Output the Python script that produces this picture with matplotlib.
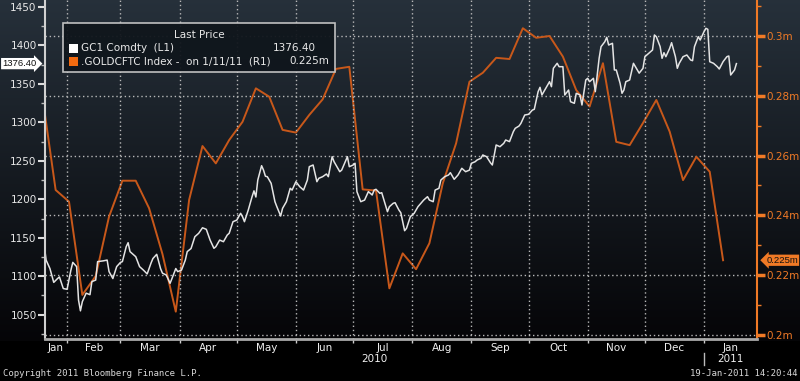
import numpy as np
import pandas as pd
import matplotlib
matplotlib.use("Agg")
import matplotlib.pyplot as plt
import matplotlib.transforms as mtransforms
from matplotlib.ticker import MultipleLocator, FuncFormatter, FixedLocator, FixedFormatter, NullFormatter
from matplotlib.patches import Rectangle
import matplotlib.dates as mdates

# GC1 Comdty, daily (days counted from gold_start)
gold_start = "2010-01-20"
gold_day = [0, 1, 3, 5, 7, 8, 10, 12, 14, 15, 17, 18, 19, 20, 22, 24, 25, 27, 28, 31,
            33, 34, 36, 38, 40, 41, 43, 44, 45, 48, 50, 52, 54, 56, 57, 59, 61, 62, 64, 66,
            67, 69, 70, 72, 74, 75, 77, 79, 81, 83, 85, 87, 89, 90, 92, 94, 96, 97, 99, 101,
            103, 104, 105, 107, 109, 110, 111, 112, 114, 115, 116, 117, 119, 121, 122, 124, 125, 127, 129, 130,
            132, 134, 136, 138, 139, 141, 143, 144, 146, 148, 149, 151, 152, 155, 156, 159, 160, 162, 163, 164,
            166, 168, 170, 172, 173, 174, 176, 177, 180, 181, 183, 184, 186, 187, 189, 190, 192, 194, 196, 199,
            201, 202, 204, 205, 207, 208, 210, 212, 213, 215, 217, 219, 221, 223, 224, 226, 227, 229, 230, 232,
            234, 235, 237, 239, 241, 242, 244, 246, 247, 249, 250, 252, 254, 256, 257, 259, 260, 261, 263, 265,
            266, 267, 269, 270, 272, 273, 275, 276, 278, 279, 281, 282, 284, 285, 286, 288, 289, 291, 292, 294,
            295, 296, 298, 299, 300, 302, 303, 304, 305, 307, 309, 311, 312, 314, 315, 317, 319, 320, 321, 323,
            324, 325, 326, 328, 329, 331, 332, 333, 335, 337, 339, 340, 341, 343, 344, 346, 347, 348, 349, 351,
            353, 354, 356, 358, 359, 360, 362, 363]
gold_px = [1140.6, 1121, 1110, 1092, 1097, 1099, 1084, 1083, 1108, 1118, 1112.5, 1069, 1055, 1067, 1078, 1076, 1093, 1095, 1119, 1120,
           1121, 1106, 1097, 1112.5, 1118, 1119, 1138.4, 1143.6, 1132, 1125.4, 1112.5, 1108, 1103, 1117, 1123, 1128.5, 1110, 1104, 1101.6, 1090.8,
           1097, 1110, 1106, 1108, 1121, 1132, 1136, 1151.4, 1155.8, 1163, 1161, 1147, 1136.3, 1138.4, 1147, 1144.9, 1153.6, 1155.8, 1170.9, 1173,
           1181.8, 1177.4, 1170.9, 1186, 1203.4, 1211, 1203, 1225, 1243.7, 1238, 1230, 1229.4, 1220.8, 1196.9, 1190.4, 1178.3, 1188.3, 1196.9, 1214.3, 1212,
           1222.9, 1216.4, 1212, 1225, 1242.4, 1244.6, 1222.9, 1227.3, 1229.4, 1232.9, 1229.4, 1255.4, 1248.9, 1235.9, 1238, 1255.4, 1242.4, 1244.6, 1246.8, 1209.9,
           1196.9, 1199, 1210, 1205.6, 1212, 1213, 1207.8, 1208.6, 1183.9, 1190.4, 1194.8, 1195.6, 1186.1, 1182.6, 1159.2, 1162.3, 1177.4, 1181.8, 1190.4, 1199,
           1203.4, 1199, 1196.9, 1212, 1214.3, 1225, 1229.4, 1231.6, 1234.6, 1226, 1231.6, 1240.3, 1235.9, 1238, 1246.8, 1248.9, 1251.1, 1253.3, 1257.6, 1255.4,
           1247.6, 1244.6, 1270.6, 1268.4, 1272.8, 1277.1, 1275, 1287.9, 1292.3, 1295.3, 1298.8, 1309.6, 1310.5, 1316, 1317, 1339.9, 1345.6, 1335.6, 1344.3, 1352.9,
           1346.4, 1370.3, 1376.8, 1372.4, 1372.4, 1335.6, 1342.1, 1326.9, 1324.8, 1337.8, 1335.6, 1322.6, 1355.1, 1357.3, 1352.9, 1357.3, 1339.9, 1383.3, 1398.4, 1404.9,
           1410.6, 1400.6, 1402.8, 1368.1, 1368.1, 1350.8, 1337.8, 1342.1, 1352.9, 1355.1, 1376.8, 1368.1, 1364, 1370.3, 1385.4, 1389.8, 1394.1, 1413.6, 1411.4, 1398.4,
           1383.3, 1390.6, 1385.4, 1396.3, 1403.6, 1385.4, 1370.3, 1376.8, 1385.4, 1387.6, 1381.1, 1380.2, 1398.4, 1411.4, 1407.1, 1417.9, 1422.3, 1421, 1378.9, 1376.8,
           1372.4, 1369.4, 1378.9, 1385.4, 1386.3, 1361.6, 1368.1, 1376.4]

# .GOLDCFTC Index, weekly (millions of contracts)
cftc_start = "2010-01-19"
cftc_val = [0.280, 0.2485, 0.2446, 0.2134, 0.2197, 0.2396, 0.2516, 0.2516, 0.2424, 0.2271,
            0.2078, 0.2452, 0.2632, 0.2574, 0.2652, 0.2713, 0.2825, 0.2797, 0.2686, 0.2677,
            0.2736, 0.2788, 0.2890, 0.2897, 0.2487, 0.2483, 0.2156, 0.2273, 0.2220, 0.2307,
            0.2507, 0.2641, 0.2847, 0.2877, 0.2927, 0.2923, 0.3026, 0.2994, 0.3000, 0.2931,
            0.2819, 0.2764, 0.2909, 0.2646, 0.2635, 0.2709, 0.2786, 0.2680, 0.2518, 0.2596,
            0.2546, 0.2250]

month_names = ["Jan", "Feb", "Mar", "Apr", "May", "Jun", "Jul", "Aug", "Sep", "Oct", "Nov", "Dec"]
x_start = pd.Timestamp("2010-01-20 10:00")
x_end = pd.Timestamp("2011-01-28 19:00")

gold_dates = pd.Timestamp(gold_start) + pd.to_timedelta(gold_day, unit="D")
cftc_dates = pd.date_range(cftc_start, periods=len(cftc_val), freq="7D")

WHITE = "#e4e4e4"
ORANGE = "#c8581a"
ORANGE_TXT = "#f07a26"

fig = plt.figure(figsize=(8, 3.81), dpi=100, facecolor="black")

# background gradient
bg = fig.add_axes([0, 0, 1, 1])
rows = np.arange(381)
t = np.clip(rows / 339.0, 0, 1)[:, None]
top = np.array([0.15, 0.19, 0.23])
bot = np.array([0.02, 0.02, 0.03])
img = top * (1 - t) + bot * t
img[rows > 340] = 0
bg.imshow(img[:, None, :], aspect="auto", extent=[0, 1, 0, 1])
bg.set_axis_off()

ax = fig.add_axes([45 / 800, 42 / 381, 712 / 800, 339 / 381])
ax2 = ax.twinx()
ax.set_zorder(ax2.get_zorder() + 1)
ax.patch.set_visible(False)
ax2.patch.set_visible(False)

ax2.plot(cftc_dates, cftc_val, color=ORANGE, lw=1.4)
ax.plot(gold_dates, gold_px, color=WHITE, lw=1.1)

ax.set_xlim(x_start, x_end)
ax.set_ylim(1018.4, 1459.1)
ax2.set_ylim(0.19866, 0.31204)

# left axis
ax.yaxis.set_major_locator(MultipleLocator(50))
ax.yaxis.set_minor_locator(MultipleLocator(25))
ax.tick_params(axis="y", which="major", length=5, width=1.5, color="#dddddd",
               labelcolor="#e8e8e8", labelsize=7.5, pad=1)
ax.tick_params(axis="y", which="minor", length=3, width=1, color="#bbbbbb")

# right axis
ax2.yaxis.set_major_locator(MultipleLocator(0.02))
ax2.yaxis.set_minor_locator(MultipleLocator(0.01))
ax2.yaxis.set_major_formatter(FuncFormatter(lambda v, p: f"{v:g}m"))
ax2.tick_params(axis="y", which="major", length=6, width=2.5, color=ORANGE_TXT,
                labelcolor=ORANGE_TXT, labelsize=7.5, pad=1)
ax2.tick_params(axis="y", which="minor", length=3, width=1, color=ORANGE_TXT)

# x axis: month boundaries as ticks, names centred in each month
month_starts = pd.date_range("2010-02-01", x_end, freq="MS")
edges = [x_start] + list(month_starts) + [x_end]
mids = [a + (b - a) / 2 for a, b in zip(edges[:-1], edges[1:])]
labels = [month_names[a.month - 1] for a in edges[:-1]]
ax.xaxis.set_major_locator(FixedLocator(mdates.date2num(month_starts)))
ax.xaxis.set_major_formatter(NullFormatter())
ax.xaxis.set_minor_locator(FixedLocator(mdates.date2num(mids)))
ax.xaxis.set_minor_formatter(FixedFormatter(labels))
ax.tick_params(axis="x", which="major", length=3, width=1, color="#cccccc")
ax.tick_params(axis="x", which="minor", length=0, labelcolor="#f0f0f0", labelsize=7.5, pad=3)

# grid
grid_kw = dict(color="#b8b8b8", linestyle=(0, (1, 2)), lw=1.0)
ax2.yaxis.grid(True, which="major", **grid_kw)
ax.xaxis.grid(True, which="major", **grid_kw)

for s in ["top", "right"]:
    ax.spines[s].set_visible(False)
ax.spines["left"].set_color("#d0d0d0")
ax.spines["left"].set_linewidth(1.5)
ax.spines["bottom"].set_color("#a8a8a8")
ax.spines["bottom"].set_linewidth(2)
for s in ["top", "left", "bottom"]:
    ax2.spines[s].set_visible(False)
ax2.spines["right"].set_color(ORANGE_TXT)
ax2.spines["right"].set_linewidth(1.5)

# year labels and separator
xt = mtransforms.blended_transform_factory(ax.transData, ax.transAxes)
year_edges = [x_start, pd.Timestamp("2011-01-01"), x_end]
for a, b in zip(year_edges[:-1], year_edges[1:]):
    ax.text(a + (b - a) / 2, -0.058, str(a.year), transform=xt, ha="center", va="center",
            color="#f0f0f0", fontsize=7.5)
ax.plot([year_edges[1], year_edges[1]], [-0.04, -0.078], transform=xt, clip_on=False,
        color="#bbbbbb", lw=1)

# last value tags
lt = mtransforms.blended_transform_factory(ax.transAxes, ax.transData)
ax.text(-0.012, gold_px[-1], f"{gold_px[-1]:.2f}", transform=lt, ha="right", va="center",
        fontsize=6.8, color="#111111", family="Liberation Sans",
        bbox=dict(boxstyle="rarrow,pad=0.12", fc="white", ec="none"))
rt = mtransforms.blended_transform_factory(ax2.transAxes, ax2.transData)
ax2.text(1.013, cftc_val[-1], f"{cftc_val[-1]:.3f}m", transform=rt, ha="left", va="center",
         fontsize=6.8, color="#111111", family="Liberation Sans",
         bbox=dict(boxstyle="larrow,pad=0.12", fc=ORANGE_TXT, ec="none"))

# legend box
W, H = 800.0, 381.0
fig.add_artist(Rectangle((63 / W, 1 - 72 / H), 272 / W, 49 / H, transform=fig.transFigure,
                         fc="#10161c", ec="#c8c8c8", lw=1.2, alpha=0.95, zorder=5))
fig.text(199 / W, 1 - 35 / H, "Last Price", ha="center", va="center", color="#e8e8e8",
         fontsize=7.5, zorder=6)
fig.add_artist(Rectangle((69 / W, 1 - 52.5 / H), 9 / W, 9 / H, transform=fig.transFigure,
                         fc="white", ec="none", zorder=6))
fig.add_artist(Rectangle((69 / W, 1 - 66 / H), 9 / W, 9 / H, transform=fig.transFigure,
                         fc="#f26a10", ec="none", zorder=6))
fig.text(81 / W, 1 - 48 / H, "GC1 Comdty  (L1)", ha="left", va="center", color="#e8e8e8",
         fontsize=7.5, zorder=6)
fig.text(316 / W, 1 - 48 / H, f"{gold_px[-1]:.2f}", ha="right", va="center", color="#e8e8e8",
         fontsize=7.5, zorder=6)
fig.text(81 / W, 1 - 61.5 / H, ".GOLDCFTC Index -  on 1/11/11  (R1)", ha="left", va="center",
         color="#e8e8e8", fontsize=7.5, zorder=6)
fig.text(329 / W, 1 - 61.5 / H, f"{cftc_val[-1]:.3f}m", ha="right", va="center", color="#e8e8e8",
         fontsize=7.5, zorder=6)

fig.text(3 / W, 1 - 373 / H, "Copyright 2011 Bloomberg Finance L.P.", ha="left", va="center",
         color="#d8d8d8", fontsize=6.5, family="DejaVu Sans Mono")
fig.text(797 / W, 1 - 373 / H, "19-Jan-2011 14:20:44", ha="right", va="center",
         color="#d8d8d8", fontsize=6.5, family="DejaVu Sans Mono")

fig.savefig("out.png", dpi=100, facecolor="black")
